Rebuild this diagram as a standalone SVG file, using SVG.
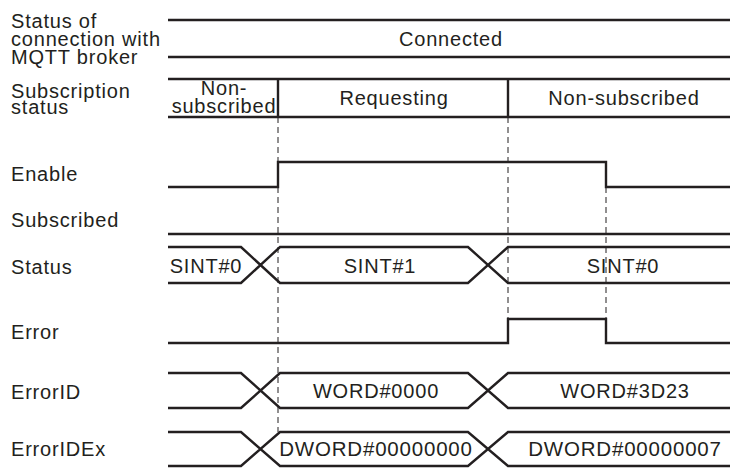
<svg xmlns="http://www.w3.org/2000/svg" width="730" height="468" viewBox="0 0 730 468">
<style>
text{font-family:"Liberation Sans",Arial,sans-serif;font-size:20px;letter-spacing:0.8px;fill:#231f20}
.c{text-anchor:middle}
.w{font-size:20.5px}
.sig{fill:none;stroke:#231f20;stroke-width:2.4;stroke-linejoin:miter}
.dash{fill:none;stroke:#231f20;stroke-width:1;stroke-dasharray:6 4}
</style>
<rect width="730" height="468" fill="#fff"/>
<g id="labels">
<text x="11" y="28">Status of</text>
<text x="11" y="46">connection with</text>
<text x="11" y="64">MQTT broker</text>
<text x="11" y="98">Subscription</text>
<text x="11" y="114">status</text>
<text x="11" y="181">Enable</text>
<text x="11" y="227">Subscribed</text>
<text x="11" y="274">Status</text>
<text x="11" y="339">Error</text>
<text x="11" y="399">ErrorID</text>
<text x="11" y="456">ErrorIDEx</text>
</g>
<g id="connectors">
<path class="dash" d="M278 117V432M508 117V319M606 187V319"/>
</g>
<g id="connection">
<path class="sig" d="M168 20H730M168 57H730"/>
<text class="c" x="451" y="46">Connected</text>
</g>
<g id="subscription">
<path class="sig" d="M168 79H730M168 117H730M278 79V117M508 79V117"/>
<text class="c" x="224" y="95">Non-</text>
<text class="c" x="224" y="113">subscribed</text>
<text class="c" x="394" y="105">Requesting</text>
<text class="c" x="624" y="105">Non-subscribed</text>
</g>
<g id="enable">
<path class="sig" d="M168 187H278V162H606V187H730"/>
</g>
<g id="subscribed">
<path class="sig" d="M168 234H730"/>
</g>
<g id="status">
<path class="sig" d="M168 247H241L280 283H468L508 247H730M168 283H241L280 247H468L508 283H730"/>
<text class="c" x="206" y="273">SINT#0</text>
<text class="c" x="380" y="273">SINT#1</text>
<text class="c" x="623" y="273">SINT#0</text>
</g>
<g id="error">
<path class="sig" d="M168 343H508V319H606V343H730"/>
</g>
<g id="errorid">
<path class="sig" d="M168 373H241L280 408H468L508 373H730M168 408H241L280 373H468L508 408H730"/>
<text class="c" x="376" y="398">WORD#0000</text>
<text class="c" x="625" y="398">WORD#3D23</text>
</g>
<g id="errorideex">
<path class="sig" d="M168 432H241L280 466H468L508 432H730M168 466H241L280 432H468L508 466H730"/>
<text class="c w" x="376" y="456">DWORD#00000000</text>
<text class="c w" x="625" y="456">DWORD#00000007</text>
</g>
</svg>
